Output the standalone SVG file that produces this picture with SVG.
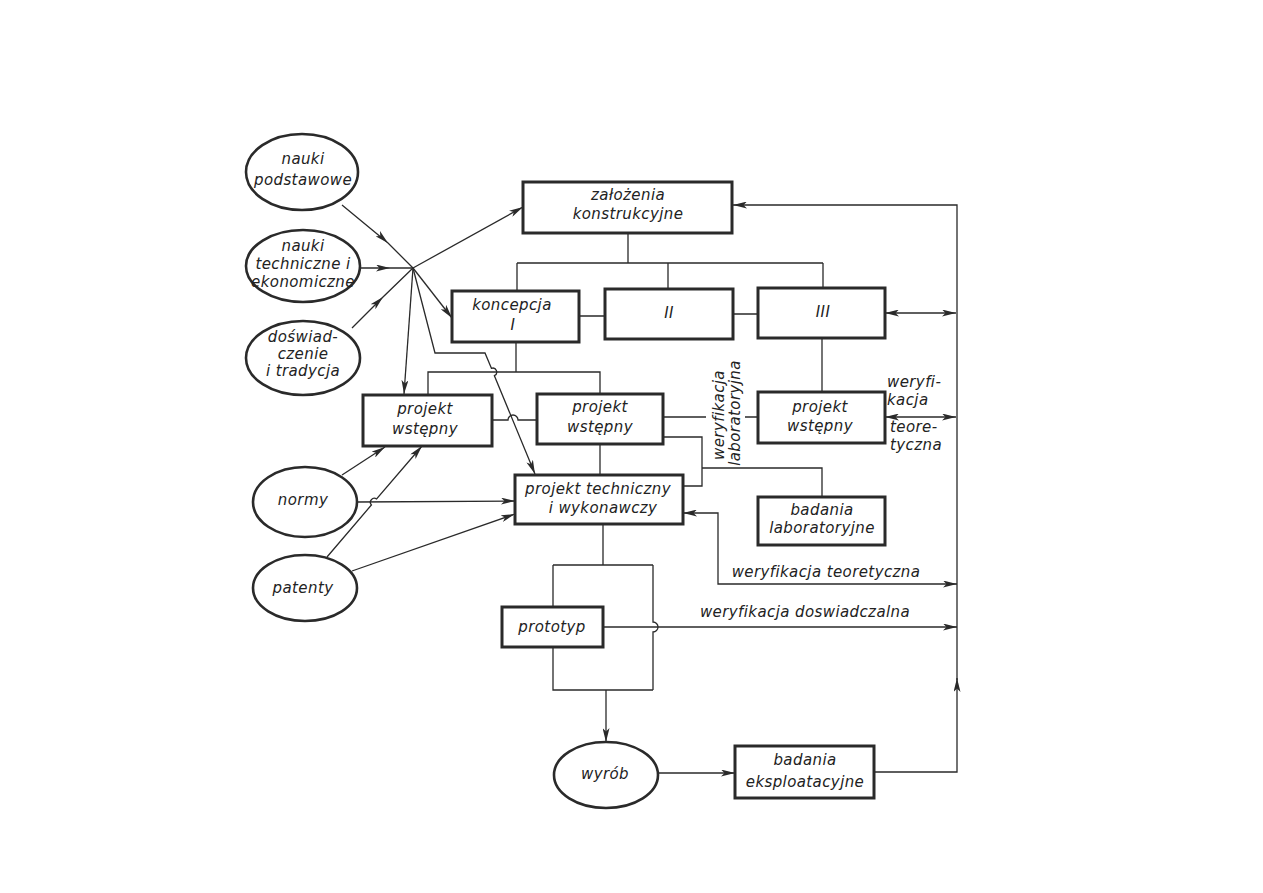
<svg xmlns="http://www.w3.org/2000/svg" width="1263" height="893" viewBox="0 0 1263 893">
<defs>
<marker id="ah" viewBox="0 0 14 7" refX="14" refY="3.5" markerWidth="14" markerHeight="7" markerUnits="userSpaceOnUse" orient="auto-start-reverse"><path d="M0,0 L14,3.5 L0,7 L3.5,3.5 z" fill="#2a2a2a"/></marker>
</defs>
<style>
.box{fill:#fff;stroke:#2a2a2a;stroke-width:3}
.ell{fill:#fff;stroke:#2a2a2a;stroke-width:2.6}
.ln{fill:none;stroke:#2a2a2a;stroke-width:1.3}
.ar{marker-end:url(#ah)}
.ar2{marker-start:url(#ah);marker-end:url(#ah)}
.mid{marker-mid:url(#ah)}
text{font-family:"DejaVu Sans","Liberation Sans",sans-serif;font-style:italic;font-size:15px;letter-spacing:0.4px;fill:#222;text-anchor:middle}
</style>
<rect width="1263" height="893" fill="#fff"/>
<g id="connectors">
<path class="ln mid" d="M342,205 L388,243 L413,268"/>
<path class="ln mid" d="M360,268 L390,268 L413,268"/>
<path class="ln mid" d="M352,328 L383,297 L413,268"/>
<path class="ln ar" d="M413,268 L523,207"/>
<path class="ln ar" d="M413,268 L452,318"/>
<path class="ln ar" d="M413,268 L404,394"/>
<path class="ln ar" d="M413,268 L435,353 H485 L491.4,368.3 A4,4 0 0 1 494.4,375.7 L535,474"/>
<path class="ln" d="M628,233 V263 M517,263 H823 M517,263 V291 M668,263 V289 M823,263 V288"/>
<path class="ln" d="M579,316 H605 M733,314 H758"/>
<path class="ln ar2" d="M885,313 H956"/>
<path class="ln ar2" d="M885,417 H956"/>
<path class="ln" d="M516,342 V372 M428,395 V372 H600 V394"/>
<path class="ln" d="M492,420 H508 A5,5 0 0 1 518,420 H537"/>
<path class="ln" d="M822,338 V392"/>
<path class="ln" d="M600,444 V475"/>
<path class="ln" d="M663,417 H706 M745,417 H758"/>
<path class="ln" d="M663,437 H702 V486 H683 M702,468 H822 V497"/>
<path class="ln ar2" d="M957,584 H718 V513 H683"/>
<path class="ln ar" d="M357,502 L515,501"/>
<path class="ln ar" d="M342,475 L385,447"/>
<path class="ln ar" d="M327,557 L371.4,505 A4,4 0 0 1 376.6,499 L422,446"/>
<path class="ln ar" d="M352,571 L515,514"/>
<path class="ln" d="M603,524 V565 M553,565 H653 M553,565 V607 M553,647 V690 H653 M653,565 V622 A5,5 0 0 1 653,632 V690"/>
<path class="ln ar" d="M603,627 H957"/>
<path class="ln ar" d="M606,690 V742"/>
<path class="ln ar" d="M658,773 H735"/>
<path class="ln ar" d="M874,772 H957 V678"/>
<path class="ln ar" d="M957,680 V205 H733"/>
</g>
<g id="n-nauki-podstawowe"><ellipse class="ell" cx="302" cy="172" rx="56" ry="38"/><text x="303" y="164">nauki</text><text x="303" y="185">podstawowe</text></g>
<g id="n-nauki-techniczne"><ellipse class="ell" cx="303" cy="266" rx="57" ry="36"/><text x="303" y="251">nauki</text><text x="303" y="269">techniczne i</text><text x="303" y="287">ekonomiczne</text></g>
<g id="n-doswiadczenie"><ellipse class="ell" cx="303" cy="358" rx="57" ry="37"/><text x="303" y="342">doświad-</text><text x="303" y="359">czenie</text><text x="303" y="376">i tradycja</text></g>
<g id="n-normy"><ellipse class="ell" cx="305" cy="502" rx="52" ry="35"/><text x="303" y="505">normy</text></g>
<g id="n-patenty"><ellipse class="ell" cx="305" cy="588" rx="52" ry="33"/><text x="303" y="593">patenty</text></g>
<g id="n-zalozenia"><rect class="box" x="523" y="182" width="209" height="51"/><text x="628" y="200">założenia</text><text x="628" y="219">konstrukcyjne</text></g>
<g id="n-koncepcja"><rect class="box" x="452" y="291" width="127" height="51"/><text x="512" y="310">koncepcja</text><text x="513" y="330">I</text></g>
<g id="n-II"><rect class="box" x="605" y="289" width="128" height="50"/><text x="669" y="318">II</text></g>
<g id="n-III"><rect class="box" x="758" y="288" width="127" height="50"/><text x="823" y="317">III</text></g>
<g id="n-pw1"><rect class="box" x="363" y="395" width="129" height="51"/><text x="425" y="414">projekt</text><text x="425" y="434">wstępny</text></g>
<g id="n-pw2"><rect class="box" x="537" y="394" width="126" height="50"/><text x="600" y="412">projekt</text><text x="600" y="432">wstępny</text></g>
<g id="n-pw3"><rect class="box" x="758" y="392" width="127" height="51"/><text x="820" y="412">projekt</text><text x="820" y="431">wstępny</text></g>
<g id="n-techniczny"><rect class="box" x="515" y="475" width="168" height="49"/><text x="598" y="494">projekt techniczny</text><text x="603" y="513">i wykonawczy</text></g>
<g id="n-lab"><rect class="box" x="758" y="497" width="127" height="48"/><text x="822" y="515">badania</text><text x="822" y="533">laboratoryjne</text></g>
<g id="n-prototyp"><rect class="box" x="502" y="607" width="101" height="40"/><text x="552" y="632">prototyp</text></g>
<g id="n-wyrob"><ellipse class="ell" cx="606" cy="775" rx="52" ry="33"/><text x="605" y="779">wyrób</text></g>
<g id="n-eksploatacyjne"><rect class="box" x="735" y="746" width="139" height="52"/><text x="805" y="765">badania</text><text x="805" y="787">eksploatacyjne</text></g>
<g id="labels">
<text transform="translate(724,415) rotate(-90)">weryfikacja</text>
<text transform="translate(740,413) rotate(-90)">laboratoryjna</text>
<text x="887" y="387" style="text-anchor:start">weryfi-</text>
<text x="887" y="405" style="text-anchor:start">kacja</text>
<text x="890" y="432" style="text-anchor:start">teore-</text>
<text x="890" y="450" style="text-anchor:start">tyczna</text>
<text x="826" y="577">weryfikacja teoretyczna</text>
<text x="805" y="617">weryfikacja doswiadczalna</text>
</g>
</svg>
